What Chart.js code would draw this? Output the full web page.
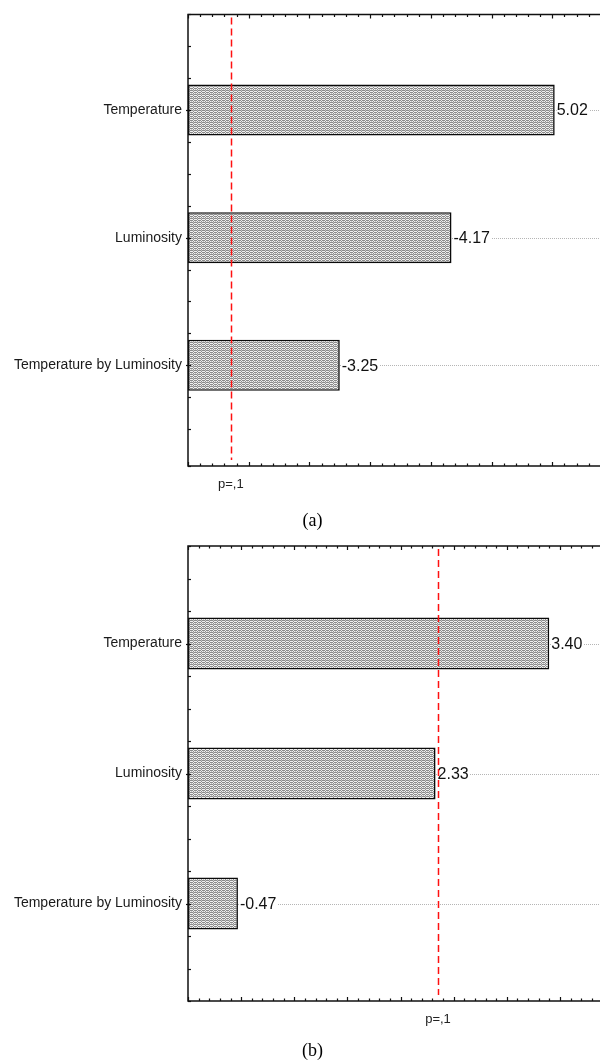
<!DOCTYPE html>
<html>
<head>
<meta charset="utf-8">
<script src="https://cdn.jsdelivr.net/npm/chart.js@4.4.1/dist/chart.umd.min.js"></script>
<style>
  html, body { margin: 0; padding: 0; background: #fff; overflow: hidden; width: 600px; height: 1060px; }
  .panel { position: absolute; left: 0; width: 620px; height: 530px; }
  #panelA { top: 0; }
  #panelB { top: 530px; }
</style>
</head>
<body>
<div class="panel" id="panelA"><canvas id="chartA" width="620" height="530"></canvas></div>
<div class="panel" id="panelB"><canvas id="chartB" width="620" height="530"></canvas></div>
<script>
// Factors, ordered by size of their standardized effect
const factors = ['Temperature', 'Luminosity', 'Temperature by Luminosity'];
// Standardized effect estimates (signed), response (a) and response (b)
const effectsA = [5.02, -4.17, -3.25];
const effectsB = [3.40, 2.33, -0.47];
// Critical value for p = .1
const pCritical = 2.353;
const pLabel = 'p=,1';
// Horizontal axis ranges
const xRangeA = [2.0, 5.5];
const xRangeB = [0, 4.0];
const captions = ['(a)', '(b)'];

const SANS = '"Liberation Sans", Arial, Helvetica, sans-serif';
const SERIF = '"Liberation Serif", "Times New Roman", serif';

// fine dotted fill used for the bars
function makeHatch(ctx) {
  const tile = document.createElement('canvas');
  tile.width = 4; tile.height = 4;
  const t = tile.getContext('2d');
  t.fillStyle = '#f0f0f0'; t.fillRect(0, 0, 4, 4);
  t.fillStyle = '#8c8c8c';
  [[0, 0], [2, 0], [1, 1], [3, 2], [0, 2], [2, 2], [1, 3], [3, 0]].forEach(([px, py]) => t.fillRect(px, py, 1, 1));
  t.fillStyle = '#c4c4c4';
  [[3, 1], [1, 2]].forEach(([px, py]) => t.fillRect(px, py, 1, 1));
  return ctx.createPattern(tile, 'repeat');
}

const decor = {
  id: 'paretoDecor',
  beforeDatasetsDraw(chart, args, opts) {
    const { ctx, chartArea: a, scales: { x, y } } = chart;
    ctx.save();
    ctx.strokeStyle = '#b5b5b5';
    ctx.lineWidth = 1;
    ctx.setLineDash([1, 1]);
    factors.forEach((f, i) => {
      const py = Math.round(y.getPixelForValue(i)) + 0.5;
      ctx.beginPath();
      ctx.moveTo(a.left, py);
      ctx.lineTo(a.right, py);
      ctx.stroke();
    });
    ctx.restore();
  },
  afterDatasetsDraw(chart, args, opts) {
    const { ctx, chartArea: a, scales: { x, y } } = chart;
    const eff = opts.effects;
    ctx.save();

    // value labels
    ctx.font = '16px ' + SANS;
    ctx.textBaseline = 'middle';
    ctx.textAlign = 'left';
    eff.forEach((v, i) => {
      const txt = v.toFixed(2);
      const px = x.getPixelForValue(Math.abs(v)) + 2;
      const py = y.getPixelForValue(i);
      const w = ctx.measureText(txt).width;
      ctx.fillStyle = '#fff';
      ctx.fillRect(px, py - 5, w + 1, 10);
      ctx.fillStyle = '#111';
      ctx.fillText(txt, px, py + 1);
    });

    // p = .1 reference line
    const pxp = Math.round(x.getPixelForValue(pCritical)) + 0.5;
    ctx.strokeStyle = '#ff1010';
    ctx.lineWidth = 1.5;
    ctx.setLineDash([7, 4]);
    ctx.beginPath();
    ctx.moveTo(pxp, a.top + 3);
    ctx.lineTo(pxp, a.bottom - 6);
    ctx.stroke();
    ctx.setLineDash([]);

    // frame
    ctx.strokeStyle = '#111';
    ctx.lineWidth = 1.5;
    ctx.beginPath();
    ctx.moveTo(a.right, a.top);
    ctx.lineTo(a.left, a.top);
    ctx.lineTo(a.left, a.bottom);
    ctx.lineTo(a.right, a.bottom);
    ctx.stroke();

    // inward ticks on the horizontal axes
    ctx.lineWidth = 1.2;
    const [xMin, xMax] = opts.range;
    const n = Math.round((xMax - xMin) / 0.1);
    for (let k = 0; k <= n; k++) {
      const px = Math.round(x.getPixelForValue(xMin + k * 0.1)) + 0.5;
      const len = (k % 5 === 0) ? 4 : 2.5;
      ctx.beginPath();
      ctx.moveTo(px, a.top); ctx.lineTo(px, a.top + len);
      ctx.moveTo(px, a.bottom); ctx.lineTo(px, a.bottom - len);
      ctx.stroke();
    }
    // ticks on the vertical axis
    y.ticks.forEach(t => {
      const py = Math.round(y.getPixelForValue(t.value)) + 0.5;
      const isCat = Math.abs(t.value - Math.round(t.value)) < 1e-6;
      ctx.beginPath();
      ctx.moveTo(a.left - (isCat ? 2 : 0), py);
      ctx.lineTo(a.left + 3, py);
      ctx.stroke();
    });

    // significance label and caption
    ctx.fillStyle = '#222';
    ctx.font = '13px ' + SANS;
    ctx.textAlign = 'center';
    ctx.fillText(pLabel, x.getPixelForValue(pCritical), a.bottom + 18);
    ctx.fillStyle = '#000';
    ctx.font = '18px ' + SERIF;
    ctx.fillText(opts.caption, 312.5, 521);
    ctx.restore();
  }
};

function makeChart(id, effects, range, yMax, top, bottom, caption) {
  const canvas = document.getElementById(id);
  const ctx = canvas.getContext('2d');
  return new Chart(ctx, {
    type: 'bar',
    data: {
      datasets: [{
        data: effects.map((v, i) => ({ x: Math.abs(v), y: i })),
        base: range[0],
        backgroundColor: makeHatch(ctx),
        borderColor: '#0a0a0a',
        borderWidth: 1.6,
        borderSkipped: false,
        // the bar ruler spacing is the quarter-step tick interval, so 1.6 of it = 0.4 of a factor slot
        barPercentage: 1.6,
        categoryPercentage: 1.0
      }]
    },
    options: {
      indexAxis: 'y',
      responsive: false,
      animation: false,
      events: [],
      layout: { padding: { top: top, right: 7, bottom: 0, left: 0 } },
      plugins: {
        legend: { display: false },
        tooltip: { enabled: false },
        paretoDecor: { effects: effects, range: range, caption: caption }
      },
      scales: {
        x: {
          type: 'linear',
          position: 'bottom',
          min: range[0],
          max: range[1],
          grid: { display: false, drawTicks: false },
          border: { display: false },
          ticks: { display: false },
          afterFit: s => { s.height = 530 - bottom; }
        },
        y: {
          type: 'linear',
          reverse: true,
          offset: false,
          min: -0.75,
          max: yMax,
          grid: { display: false, drawTicks: false, offset: false },
          border: { display: false },
          ticks: {
            stepSize: 0.25,
            autoSkip: false,
            padding: 6,
            color: '#1a1a1a',
            font: { family: SANS, size: 14 },
            callback: v => (Math.abs(v - Math.round(v)) < 1e-6 && factors[Math.round(v)]) ? factors[Math.round(v)] : ''
          },
          afterFit: s => { s.width = 188; }
        }
      }
    },
    plugins: [decor]
  });
}

makeChart('chartA', effectsA, xRangeA, 2.79, 14, 466, captions[0]);
makeChart('chartB', effectsB, xRangeB, 2.75, 16, 471, captions[1]);
</script>
</body>
</html>
